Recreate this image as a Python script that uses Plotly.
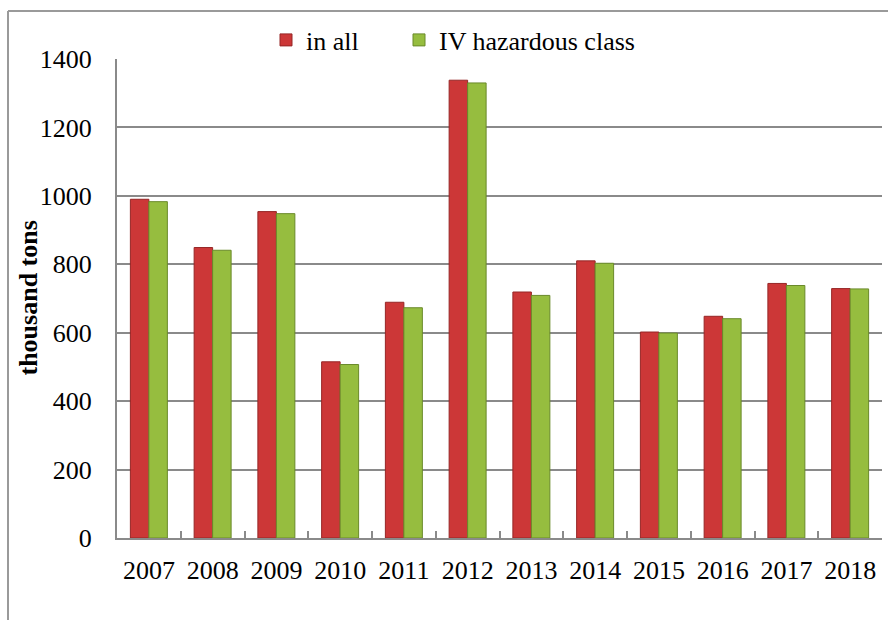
import plotly.graph_objects as go

years = ["2007", "2008", "2009", "2010", "2011", "2012", "2013", "2014", "2015", "2016", "2017", "2018"]
in_all = [990, 849, 954, 515, 689, 1338, 719, 810, 602, 648, 744, 729]
iv_class = [983, 841, 948, 507, 673, 1330, 709, 803, 599, 641, 738, 728]
series_names = ["in all", "IV hazardous class"]
y_ticks = [0, 200, 400, 600, 800, 1000, 1200, 1400]

FONT = "Liberation Serif"
GRID = "#8a8a8a"

fig = go.Figure()
fig.add_trace(go.Bar(
    x=years, y=in_all, name=series_names[0], legend="legend",
    marker=dict(color="#cc3737", line=dict(color="#962626", width=1)),
))
fig.add_trace(go.Bar(
    x=years, y=iv_class, name=series_names[1], legend="legend2",
    marker=dict(color="#96bd3f", line=dict(color="#6a8a2a", width=1)),
))

L, R, T, B = 117, 6, 59, 82
W, H = 888, 620
pw, ph = W - L - R, H - T - B

legend_common = dict(
    orientation="h", xanchor="left",
    y=1 + (T - 40) / ph, yanchor="middle",
    font=dict(family=FONT, size=26, color="black"),
    itemwidth=30, bgcolor="rgba(0,0,0,0)",
)

fig.update_layout(
    width=W, height=H,
    margin=dict(l=L, r=R, t=T, b=B, autoexpand=False),
    paper_bgcolor="white", plot_bgcolor="white",
    barmode="group", bargap=0.42, bargroupgap=0,
    font=dict(family=FONT, size=26, color="black"),
    showlegend=True,
    legend=dict(x=(266 - L) / pw, **legend_common),
    legend2=dict(x=(399 - L) / pw, **legend_common),
    xaxis=dict(
        type="category", showgrid=False, showline=True, linecolor=GRID, linewidth=2,
        ticks="inside", tickson="boundaries", ticklen=7, tickcolor=GRID, tickwidth=2,
        tickfont=dict(family=FONT, size=26, color="black"), ticklabelstandoff=8,
        automargin=False,
    ),
    yaxis=dict(
        range=[0, 1400], tickvals=y_ticks, showgrid=True, gridcolor=GRID, gridwidth=2,
        showline=True, linecolor=GRID, linewidth=2, zeroline=False,
        ticks="", tickfont=dict(family=FONT, size=26, color="black"),
        ticklabelstandoff=18, automargin=False,
    ),
    annotations=[
        dict(text="<b>thousand tons</b>", xref="paper", yref="paper",
             x=(28 - L) / pw, y=0.5, xanchor="center", yanchor="middle",
             textangle=-90, showarrow=False,
             font=dict(family=FONT, size=26, color="black")),
    ],
    shapes=[
        dict(type="line", xref="paper", yref="paper",
             x0=(8 - L) / pw, x1=(8 - L) / pw, y0=1 + (T - 11) / ph, y1=-(B + 20) / ph,
             line=dict(color="#9a9a9a", width=2)),
        dict(type="line", xref="paper", yref="paper",
             x0=(8 - L) / pw, x1=1 + (R + 20) / pw, y0=1 + (T - 11) / ph, y1=1 + (T - 11) / ph,
             line=dict(color="#9a9a9a", width=2)),
    ],
)

fig.write_html("out.html", config={"displayModeBar": False},
               post_script="document.body.style.margin='0';document.body.style.overflow='hidden';")
